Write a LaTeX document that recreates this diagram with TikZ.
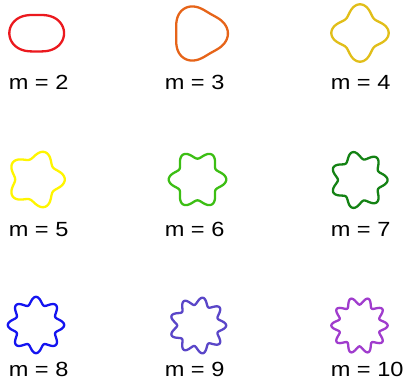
\documentclass[tikz,border=0pt]{standalone}
\usepackage{fontspec}
\setmainfont{Liberation Sans}
\definecolor{cm2}{RGB}{235,25,30}
\definecolor{cm3}{RGB}{230,100,25}
\definecolor{cm4}{RGB}{225,190,25}
\definecolor{cm5}{RGB}{255,245,0}
\definecolor{cm6}{RGB}{60,190,20}
\definecolor{cm7}{RGB}{20,130,20}
\definecolor{cm8}{RGB}{20,20,240}
\definecolor{cm9}{RGB}{90,70,200}
\definecolor{cm10}{RGB}{160,60,205}
\tikzset{
  curve/.style={line width=2.3pt, line join=round},
  lbl/.style={anchor=base west, inner sep=0pt, font=\fontsize{20.5}{24}\selectfont}
}
\begin{document}
\begin{tikzpicture}[x=1pt,y=1pt]
\useasboundingbox (0,0) rectangle (409,381);
\foreach \m/\cx/\cy/\R/\a/\col in {
  2/36.7/347.8/22.8/0.2/cm2,
  3/199/347.5/25.8/0.12/cm3,
  4/360/348/24.3/0.18/cm4,
  5/36/201.5/24.8/0.16/cm5,
  6/197.5/201.5/24.8/0.16/cm6,
  7/359/201/24.8/0.15/cm7,
  8/36/56/24.5/0.15/cm8,
  9/198/55.5/24.5/0.15/cm9,
  10/359.5/55.5/24.5/0.15/cm10}
{
  \draw[curve,\col] plot[domain=0:358,samples=180,smooth cycle]
    ({\cx+\R*(1+\a*cos(\m*\x))*cos(\x)},{\cy+\R*(1+\a*cos(\m*\x))*sin(\x)});
}
\node[lbl] (l2) at (8.6,291) {\scalebox{1.15}[1]{m = 2}};
\node[lbl] (l3) at (164.6,291) {\scalebox{1.15}[1]{m = 3}};
\node[lbl] (l4) at (330.6,291) {\scalebox{1.15}[1]{m = 4}};
\node[lbl] (l5) at (8.6,145) {\scalebox{1.15}[1]{m = 5}};
\node[lbl] (l6) at (164.6,145) {\scalebox{1.15}[1]{m = 6}};
\node[lbl] (l7) at (330.6,145) {\scalebox{1.15}[1]{m = 7}};
\node[lbl] (l8) at (8.6,5) {\scalebox{1.15}[1]{m = 8}};
\node[lbl] (l9) at (164.6,5) {\scalebox{1.15}[1]{m = 9}};
\node[lbl] (l10) at (330.6,5) {\scalebox{1.15}[1]{m = 10}};
\end{tikzpicture}
\end{document}
